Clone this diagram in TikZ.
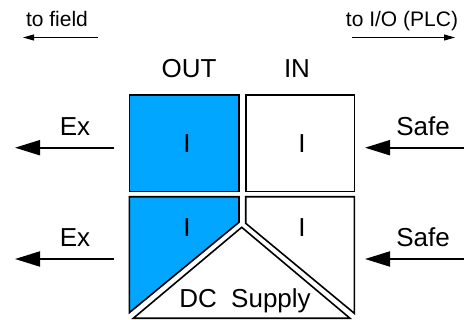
\documentclass[tikz,border=0pt]{standalone}
\usepackage{fontspec}
\setmainfont{Liberation Sans}
\usetikzlibrary{arrows.meta}
\definecolor{exblue}{RGB}{0,166,255}
\begin{document}
\begin{tikzpicture}[x=1pt,y=-1pt,
  lbl/.style={font=\fontsize{26}{30}\selectfont, inner sep=0pt, anchor=base},
  toplbl/.style={font=\fontsize{21}{25}\selectfont, inner sep=0pt, anchor=base},
  box/.style={draw=black, line width=1.6pt, line join=miter},
  bigarrow/.style={line width=2pt, -{Triangle[length=25pt,width=15pt]}},
  smallarrow/.style={line width=1pt, -{Triangle[length=11pt,width=6pt]}}]
\useasboundingbox (0,0) rectangle (474,320);
% top direction labels
\node[toplbl] (tofield) at (57,27) {to field};
\node[toplbl] (toio) at (402,27) {to I/O (PLC)};
\coordinate (tfs) at (98,37.5);
\coordinate (tfe) at (23,37.5);
\coordinate (tis) at (352,37.5);
\coordinate (tie) at (455,37.5);
\draw[smallarrow] (tfs) -- (tfe);
\draw[smallarrow] (tis) -- (tie);
% column headers
\node[lbl] (out) at (189,78) {OUT};
\node[lbl] (in) at (297,78) {IN};
% top boxes
\draw[box, fill=exblue] (129.3,95) rectangle (239,191.5);
\draw[box, fill=white] (245.7,95) rectangle (354.3,191.5);
\node[lbl] (i1) at (187,153) {I};
\node[lbl] (i2) at (302,153) {I};
% bottom boxes
\draw[box, fill=exblue] (129.3,196.8) -- (239,196.8) -- (239,222.3) -- (129.3,312.7) -- cycle;
\draw[box, fill=white] (245.7,196.8) -- (354.3,196.8) -- (354.3,313.3) -- (245.7,223.3) -- cycle;
\draw[box, fill=white] (241.7,227.3) -- (350,318.3) -- (133.3,318.3) -- cycle;
\node[lbl] (i3) at (187,237) {I};
\node[lbl] (i4) at (302,237) {I};
\node[lbl] (dc) at (245,308) {DC\ \ Supply};
% side arrows
\node[lbl] (ex1) at (75,136) {Ex};
\node[lbl] (ex2) at (75,247) {Ex};
\node[lbl] (safe1) at (423,136) {Safe};
\node[lbl] (safe2) at (423,247) {Safe};
\coordinate (l1s) at (114,147.7);
\coordinate (l1e) at (15,147.7);
\coordinate (l2s) at (114,259);
\coordinate (l2e) at (15,259);
\coordinate (r1s) at (464,147.7);
\coordinate (r1e) at (365,147.7);
\coordinate (r2s) at (464,259);
\coordinate (r2e) at (365,259);
\draw[bigarrow] (l1s) -- (l1e);
\draw[bigarrow] (l2s) -- (l2e);
\draw[bigarrow] (r1s) -- (r1e);
\draw[bigarrow] (r2s) -- (r2e);
\end{tikzpicture}
\end{document}
